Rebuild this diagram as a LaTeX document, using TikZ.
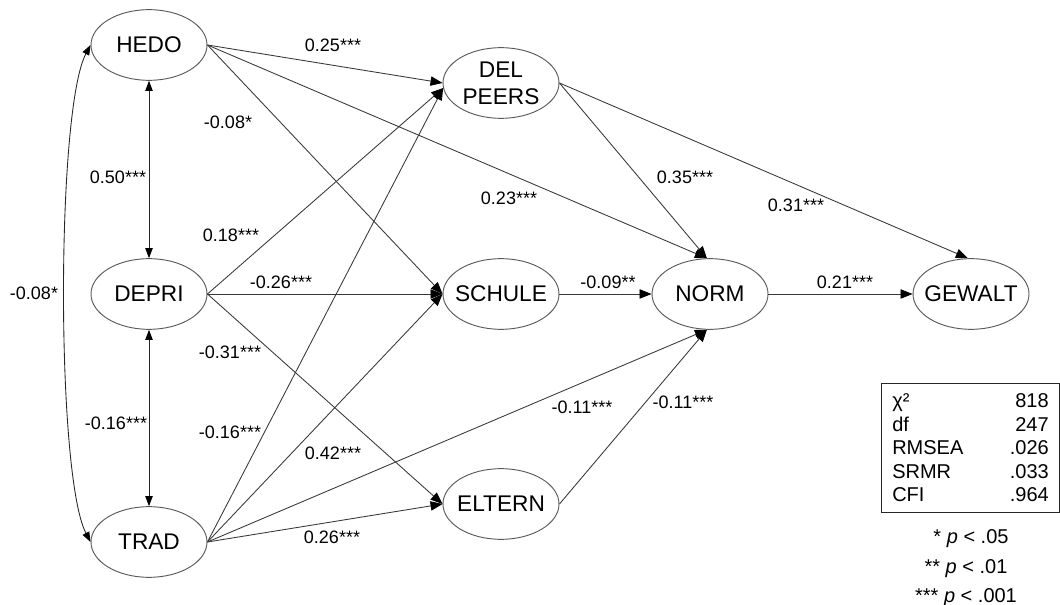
\documentclass[tikz,border=0pt]{standalone}
\usepackage{fontspec}
\setmainfont{Liberation Sans}
\usetikzlibrary{arrows.meta,shapes.geometric}
\newcommand\zbx[1]{\makebox[0pt][c]{#1}}
\begin{document}
\begin{tikzpicture}[x=0.75pt,y=-0.75pt,
  lat/.style={ellipse,draw=black!65,line width=0.7pt,minimum width=87pt,minimum height=53pt,
    inner sep=0pt,align=center,font=\fontsize{17}{20}\selectfont},
  reg/.style={draw=black!78,line width=0.65pt,-{Triangle[length=9pt,width=7pt,fill=black,color=black]}},
  cov/.style={draw=black!85,line width=0.65pt,{Triangle[length=7.5pt,width=5.5pt,fill=black,color=black]}-{Triangle[length=7.5pt,width=5.5pt,fill=black,color=black]}},
  coef/.style={inner sep=0pt,font=\fontsize{13.5}{15}\selectfont},
  fitt/.style={inner sep=0pt,font=\fontsize{15}{17}\selectfont}]
\useasboundingbox (0,0) rectangle (1060,605);

% latent variables
\node[lat] (HEDO) at (149,45) {\zbx{HEDO}};
\node[lat] (DEPRI) at (149,294) {\zbx{DEPRI}};
\node[lat] (TRAD) at (149,542) {\zbx{TRAD}};
\node[lat] (DEL) at (501,83) {\zbx{DEL}\\\zbx{PEERS}};
\node[lat] (SCHULE) at (501,294) {\zbx{SCHULE}};
\node[lat] (ELTERN) at (501,504) {\zbx{ELTERN}};
\node[lat] (NORM) at (710,294) {\zbx{NORM}};
\node[lat] (GEWALT) at (971,294) {\zbx{GEWALT}};

% regression paths
\draw[reg] (HEDO.east) -- (DEL.west);
\draw[reg] (HEDO.east) -- (SCHULE.west);
\draw[reg] (HEDO.east) -- (NORM.95);
\draw[reg] (DEPRI.east) -- (DEL.185);
\draw[reg] (DEPRI.east) -- (SCHULE.west);
\draw[reg] (DEPRI.east) -- (ELTERN.west);
\draw[reg] (TRAD.east) -- (DEL.185);
\draw[reg] (TRAD.east) -- (SCHULE.west);
\draw[reg] (TRAD.east) -- (NORM.265);
\draw[reg] (TRAD.east) -- (ELTERN.west);
\draw[reg] (DEL.east) -- (NORM.95);
\draw[reg] (DEL.east) -- (GEWALT.95);
\draw[reg] (SCHULE.east) -- (NORM.west);
\draw[reg] (ELTERN.east) -- (NORM.265);
\draw[reg] (NORM.east) -- (GEWALT.west);

% covariances
\draw[cov] (HEDO.south) -- (DEPRI.north);
\draw[cov] (DEPRI.south) -- (TRAD.north);
\draw[cov] (HEDO.west) .. controls (56,110) and (56,476) .. (TRAD.west);

% coefficients
\node[coef] (c1) at (333,45) {0.25***};
\node[coef] (c2) at (228,122) {-0.08*};
\node[coef] (c3) at (509,198) {0.23***};
\node[coef] (c4) at (231,235) {0.18***};
\node[coef] (c5) at (281,282) {-0.26***};
\node[coef] (c6) at (230,352) {-0.31***};
\node[coef] (c7) at (118,177) {0.50***};
\node[coef] (c8) at (116,423) {-0.16***};
\node[coef] (c9) at (230,432) {-0.16***};
\node[coef] (c10) at (333,453) {0.42***};
\node[coef] (c11) at (332,537) {0.26***};
\node[coef] (c12) at (582,407) {-0.11***};
\node[coef] (c13) at (683,402) {-0.11***};
\node[coef] (c14) at (685,177) {0.35***};
\node[coef] (c15) at (608,282) {-0.09**};
\node[coef] (c16) at (796,205) {0.31***};
\node[coef] (c17) at (845,282) {0.21***};
\node[coef] (c18) at (34,293) {-0.08*};

% fit indices
\node[draw=black!85,line width=0.7pt,minimum width=133.5pt,minimum height=96.75pt,inner sep=0pt] (fitbox) at (970,447.5) {};
\node[fitt,anchor=base west] (f1) at (892,408) {χ²};
\node[fitt,anchor=base west] (f2) at (892,432) {df};
\node[fitt,anchor=base west] (f3) at (892,455) {RMSEA};
\node[fitt,anchor=base west] (f4) at (892,479) {SRMR};
\node[fitt,anchor=base west] (f5) at (892,502) {CFI};
\node[fitt,anchor=base east] (v1) at (1049,408) {818};
\node[fitt,anchor=base east] (v2) at (1049,432) {247};
\node[fitt,anchor=base east] (v3) at (1049,455) {.026};
\node[fitt,anchor=base east] (v4) at (1049,479) {.033};
\node[fitt,anchor=base east] (v5) at (1049,502) {.964};

% significance notes
\node[fitt,anchor=base] (n1) at (971,543) {* \textit{p} < .05};
\node[fitt,anchor=base] (n2) at (966,573) {** \textit{p} < .01};
\node[fitt,anchor=base] (n3) at (966,602) {*** \textit{p} < .001};
\end{tikzpicture}
\end{document}
